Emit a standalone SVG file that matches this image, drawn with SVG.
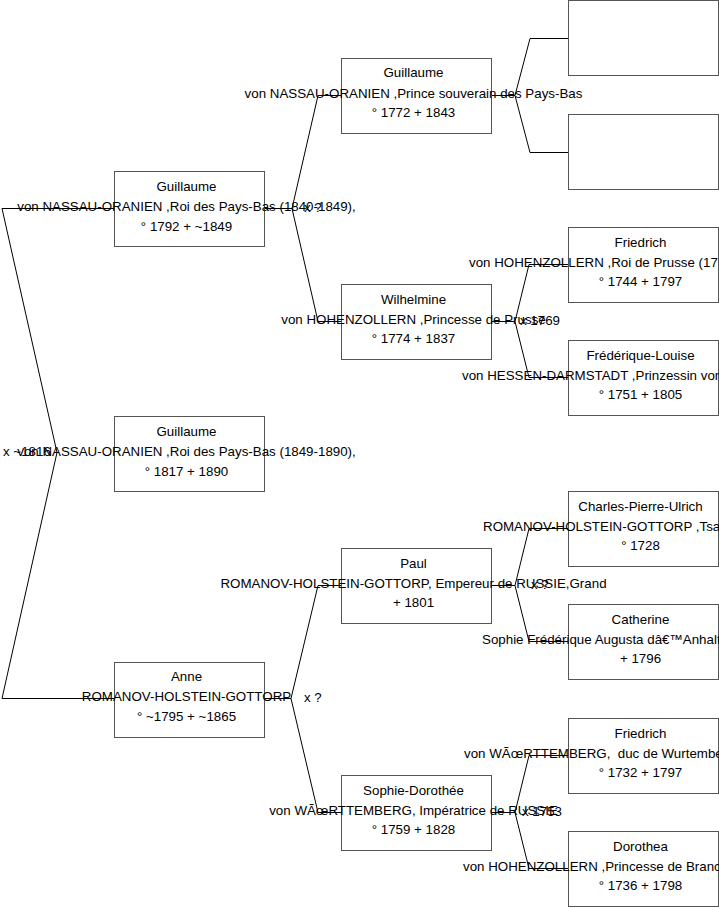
<svg xmlns="http://www.w3.org/2000/svg" width="719" height="908" viewBox="0 0 719 908">
<style>
.box{fill:#fff;stroke:#555;stroke-width:1}
.ln{fill:none;stroke:#000;stroke-width:1}
text{font-family:"Liberation Sans",Arial,sans-serif;font-size:13.33px;fill:#000}
.c{text-anchor:middle}
</style>
<rect width="719" height="908" fill="#fff"/>
<g id="connectors">
<path class="ln" d="M2,208.5H114M2,698.5H114M2,208.5L57,452.5L2,698.5"/>
<path class="ln" d="M264,208.5H292L318,95.5H341M292,208.5L318,321.5H341"/>
<path class="ln" d="M264,698.5H291L318,585.5H341M291,698.5L318,812.5H341"/>
<path class="ln" d="M491,95.5H515L530,38.5H568M515,95.5L530,152.5H568"/>
<path class="ln" d="M491,321.5H515L529,264.5H568M515,321.5L529,377.5H568"/>
<path class="ln" d="M491,585.5H515L529,528.5H568M515,585.5L529,641.5H568"/>
<path class="ln" d="M491,812.5H515L529,755.5H568M515,812.5L529,868.5H568"/>
</g>
<g id="marriages">
<text x="3" y="456">x ~1816</text>
<text x="304" y="212">x ?</text>
<text x="304" y="702">x ?</text>
<text x="520" y="325">x 1769</text>
<text x="531" y="589">x ?</text>
<text x="522" y="816">x 1753</text>
</g>
<g id="n_guillaume1792"><rect class="box" x="114.5" y="171.5" width="150" height="75"/>
<text class="c" x="186.5" y="191">Guillaume</text>
<text class="c" x="186.5" y="211">von NASSAU-ORANIEN ,Roi des Pays-Bas (1840-1849),</text>
<text class="c" x="186.5" y="231">° 1792 + ~1849</text></g>
<g id="n_guillaume1817"><rect class="box" x="114.5" y="416.5" width="150" height="75"/>
<text class="c" x="186.5" y="436">Guillaume</text>
<text class="c" x="186.5" y="456">von NASSAU-ORANIEN ,Roi des Pays-Bas (1849-1890),</text>
<text class="c" x="186.5" y="476">° 1817 + 1890</text></g>
<g id="n_anne"><rect class="box" x="114.5" y="662.5" width="150" height="75"/>
<text class="c" x="186.5" y="681">Anne</text>
<text class="c" x="186.5" y="701">ROMANOV-HOLSTEIN-GOTTORP</text>
<text class="c" x="186.5" y="721">° ~1795 + ~1865</text></g>
<g id="n_guillaume1772"><rect class="box" x="341.5" y="58.5" width="150" height="75"/>
<text class="c" x="413.5" y="77">Guillaume</text>
<text class="c" x="413.5" y="98">von NASSAU-ORANIEN ,Prince souverain des Pays-Bas</text>
<text class="c" x="413.5" y="117">° 1772 + 1843</text></g>
<g id="n_wilhelmine"><rect class="box" x="341.5" y="284.5" width="150" height="75"/>
<text class="c" x="413.5" y="304">Wilhelmine</text>
<text class="c" x="413.5" y="324">von HOHENZOLLERN ,Princesse de Prusse</text>
<text class="c" x="413.5" y="343">° 1774 + 1837</text></g>
<g id="n_paul"><rect class="box" x="341.5" y="548.5" width="150" height="75"/>
<text class="c" x="413.5" y="568">Paul</text>
<text class="c" x="413.5" y="588">ROMANOV-HOLSTEIN-GOTTORP, Empereur de RUSSIE,Grand</text>
<text class="c" x="413.5" y="607">+ 1801</text></g>
<g id="n_sophiedorothee"><rect class="box" x="341.5" y="775.5" width="150" height="75"/>
<text class="c" x="413.5" y="795">Sophie-Dorothée</text>
<text class="c" x="413.5" y="815">von WÃœRTTEMBERG, Impératrice de RUSSIE</text>
<text class="c" x="413.5" y="834">° 1759 + 1828</text></g>
<g id="n_empty1"><rect class="box" x="568.5" y="0.5" width="150" height="75"/></g>
<g id="n_empty2"><rect class="box" x="568.5" y="114.5" width="150" height="75"/></g>
<g id="n_friedrich1744"><rect class="box" x="568.5" y="227.5" width="150" height="75"/>
<text class="c" x="640.5" y="247">Friedrich</text>
<text x="469" y="267">von HOHENZOLLERN ,Roi de Prusse (17</text>
<text class="c" x="640.5" y="286">° 1744 + 1797</text></g>
<g id="n_frederiquelouise"><rect class="box" x="568.5" y="340.5" width="150" height="75"/>
<text class="c" x="640.5" y="360">Frédérique-Louise</text>
<text x="462" y="380">von HESSEN-DARMSTADT ,Prinzessin von</text>
<text class="c" x="640.5" y="399">° 1751 + 1805</text></g>
<g id="n_charles"><rect class="box" x="568.5" y="491.5" width="150" height="75"/>
<text class="c" x="640.5" y="511">Charles-Pierre-Ulrich</text>
<text x="483" y="531">ROMANOV-HOLSTEIN-GOTTORP ,Tsa</text>
<text class="c" x="640.5" y="550">° 1728</text></g>
<g id="n_catherine"><rect class="box" x="568.5" y="604.5" width="150" height="75"/>
<text class="c" x="640.5" y="624">Catherine</text>
<text x="482" y="644">Sophie Frédérique Augusta dâ€™Anhalt</text>
<text class="c" x="640.5" y="663">+ 1796</text></g>
<g id="n_friedrich1732"><rect class="box" x="568.5" y="718.5" width="150" height="75"/>
<text class="c" x="640.5" y="738">Friedrich</text>
<text x="464" y="758" xml:space="preserve">von WÃœRTTEMBERG,  duc de Wurtembe</text>
<text class="c" x="640.5" y="777">° 1732 + 1797</text></g>
<g id="n_dorothea"><rect class="box" x="568.5" y="831.5" width="150" height="75"/>
<text class="c" x="640.5" y="851">Dorothea</text>
<text x="463" y="871">von HOHENZOLLERN ,Princesse de Branc</text>
<text class="c" x="640.5" y="890">° 1736 + 1798</text></g>
</svg>
